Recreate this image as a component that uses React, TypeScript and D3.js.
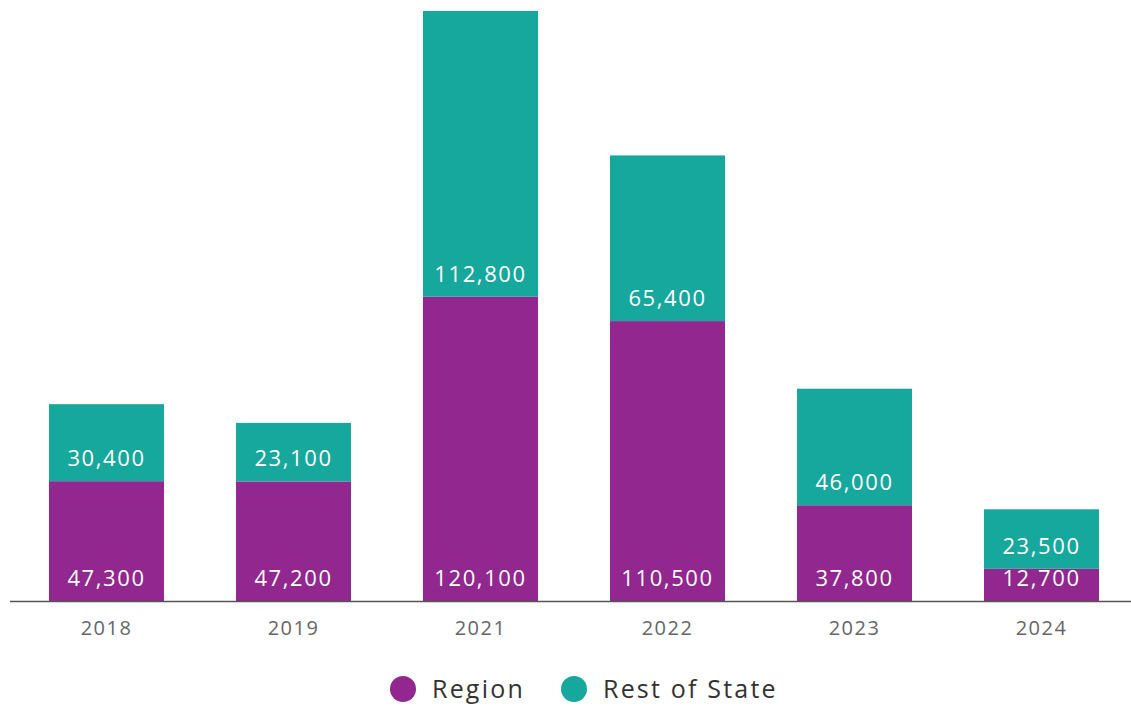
import { useEffect, useRef } from 'react'
import * as d3 from 'd3'

const years = ['2018', '2019', '2021', '2022', '2023', '2024']
const region = [47300, 47200, 120100, 110500, 37800, 12700]
const restOfState = [30400, 23100, 112800, 65400, 46000, 23500]
const seriesNames = ['Region', 'Rest of State']
const colors = ['#92278f', '#16a89d']

export default function App() {
  const svgRef = useRef<SVGSVGElement>(null)

  useEffect(() => {
    if (!svgRef.current) return
    const svg = d3.select(svgRef.current)
    svg.selectAll('*').remove()

    const font = "'Open Sans', sans-serif"
    const baseline = 601

    const data = years.map((y, i) => ({ year: y, region: region[i], rest: restOfState[i] }))
    const stack = d3.stack<any>().keys(['region', 'rest'])(data)

    const x = d3.scaleBand()
      .domain(years)
      .range([13, 1135])
      .paddingInner(0.385)
      .paddingOuter(0.1925)

    const maxTotal = d3.max(data, d => d.region + d.rest) as number
    const y = d3.scaleLinear().domain([0, maxTotal]).range([baseline, 11])

    // Bars + value labels
    stack.forEach((layer, li) => {
      const g = svg.append('g')
      g.selectAll('rect')
        .data(layer)
        .join('rect')
        .attr('x', d => x(d.data.year) as number)
        .attr('width', x.bandwidth())
        .attr('y', d => y(d[1]))
        .attr('height', d => y(d[0]) - y(d[1]))
        .attr('fill', colors[li])

      g.selectAll('text')
        .data(layer)
        .join('text')
        .attr('x', d => (x(d.data.year) as number) + x.bandwidth() / 2)
        .attr('y', d => y(d[0]) - 15)
        .attr('text-anchor', 'middle')
        .attr('fill', '#ffffff')
        .attr('font-family', font)
        .attr('font-size', '22px')
        .attr('letter-spacing', '1.6px')
        .text(d => d3.format(',')(d[1] - d[0]))
    })

    // Axis line
    svg.append('line')
      .attr('x1', 10)
      .attr('x2', 1131)
      .attr('y1', baseline + 0.5)
      .attr('y2', baseline + 0.5)
      .attr('stroke', '#555')
      .attr('stroke-width', 1.5)

    svg.append('g')
      .selectAll('text')
      .data(years)
      .join('text')
      .attr('x', d => (x(d) as number) + x.bandwidth() / 2)
      .attr('y', 635)
      .attr('text-anchor', 'middle')
      .attr('fill', '#666')
      .attr('font-family', font)
      .attr('font-size', '20px')
      .attr('letter-spacing', '1.5px')
      .text(d => d)

    // Legend
    const legend = svg.append('g')
    const legendX = [403, 574]
    seriesNames.forEach((name, i) => {
      legend.append('circle')
        .attr('cx', legendX[i])
        .attr('cy', 689)
        .attr('r', 13)
        .attr('fill', colors[i])
      legend.append('text')
        .attr('x', legendX[i] + 29)
        .attr('y', 698)
        .attr('fill', '#333')
        .attr('font-family', font)
        .attr('font-size', '25px')
        .attr('letter-spacing', '2.2px')
        .text(name)
    })
  }, [])

  return (
    <div style={{ position: 'absolute', left: 0, top: 0 }}>
      <svg ref={svgRef} width={1131} height={706} style={{ display: 'block', background: '#fff' }} />
    </div>
  )
}
